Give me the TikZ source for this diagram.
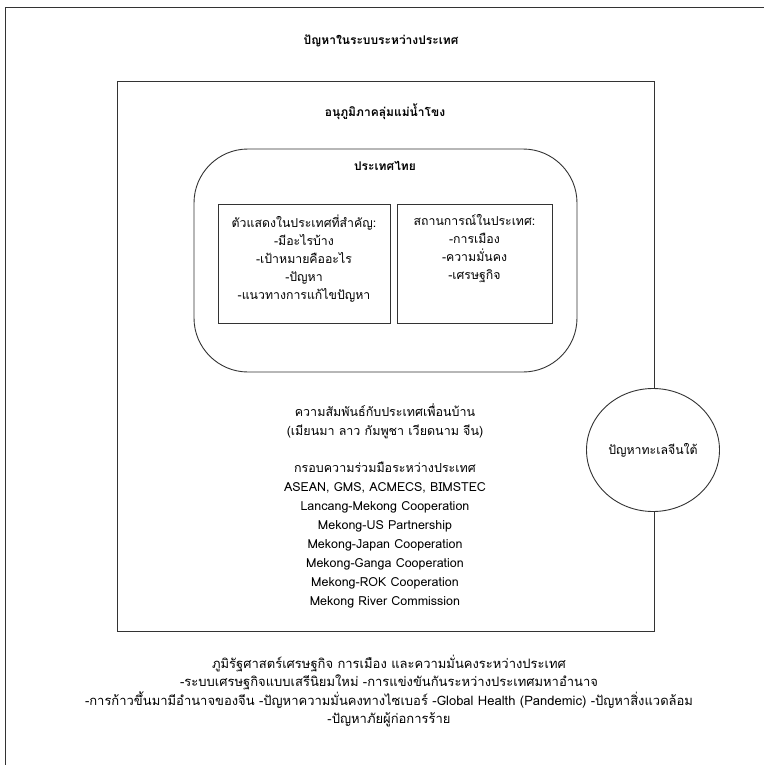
\documentclass[tikz,border=0pt]{standalone}
\usepackage{fontspec}
\setmainfont[Script=Thai]{Loma}
\usetikzlibrary{positioning,shapes.geometric}

\tikzset{
  frameline/.style={draw=black!80, line width=0.9pt},
  areabox/.style={frameline, rectangle, inner sep=0pt},
  headtext/.style={font=\fontsize{12}{18}\selectfont\bfseries, inner sep=0pt},
  listtext/.style={font=\fontsize{12.3}{18}\selectfont, align=center, inner sep=0pt},
  longlist/.style={font=\fontsize{12.5}{18.9}\selectfont, align=center, inner sep=0pt},
  foottext/.style={font=\fontsize{13}{18.2}\selectfont, align=center, inner sep=0pt}
}

\begin{document}
\begin{tikzpicture}[x=1pt, y=-1pt]
  \useasboundingbox (0,0) rectangle (763,765);

  % outer frame (cut at the right and bottom)
  \draw[frameline] (5,775) -- (5,7) -- (775,7);
  \node[headtext] (title) at (381,41) {ปัญหาในระบบระหว่างประเทศ};

  % sub-region square
  \node[areabox, minimum width=537, minimum height=550] (subregion) at (385.5,356) {};
  \node[headtext] (subregiontitle) at (385,112) {อนุภูมิภาคลุ่มแม่น้ำโขง};

  % Thailand
  \node[areabox, rounded corners=54pt, minimum width=383, minimum height=223] (thailand) at (385.5,260.5) {};
  \node[headtext] (thailandtitle) at (385,166) {ประเทศไทย};

  \node[areabox, minimum width=172, minimum height=119] (actors) at (304,263.5) {};
  \node[listtext, below=11pt of actors.north] (actorstext) {ตัวแสดงในประเทศที่สำคัญ:\\-มีอะไรบ้าง\\-เป้าหมายคืออะไร\\-ปัญหา\\-แนวทางการแก้ไขปัญหา};

  \node[areabox, minimum width=155, minimum height=119] (situation) at (474.5,263.5) {};
  \node[listtext, below=11pt of situation.north] (situationtext) {สถานการณ์ในประเทศ:\\-การเมือง\\-ความมั่นคง\\-เศรษฐกิจ};

  % relations and frameworks
  \node[longlist] (neighbours) at (385,421) {ความสัมพันธ์กับประเทศเพื่อนบ้าน\\(เมียนมา ลาว กัมพูชา เวียดนาม จีน)};
  \node[longlist] (frameworks) at (385,535) {กรอบความร่วมมือระหว่างประเทศ\\ASEAN, GMS, ACMECS, BIMSTEC\\Lancang-Mekong Cooperation\\Mekong-US Partnership\\Mekong-Japan Cooperation\\Mekong-Ganga Cooperation\\Mekong-ROK Cooperation\\Mekong River Commission};

  % South China Sea
  \node[frameline, ellipse, fill=white, minimum width=133, minimum height=123, inner sep=0pt,
        font=\fontsize{12.3}{18}\selectfont] (scsea) at (653,450) {ปัญหาทะเลจีนใต้};

  % bottom text
  \node[foottext] (geoeco) at (389,691) {ภูมิรัฐศาสตร์เศรษฐกิจ การเมือง และความมั่นคงระหว่างประเทศ\\-ระบบเศรษฐกิจแบบเสรีนิยมใหม่ -การแข่งขันกันระหว่างประเทศมหาอำนาจ\\-การก้าวขึ้นมามีอำนาจของจีน -ปัญหาความมั่นคงทางไซเบอร์ -Global Health (Pandemic) -ปัญหาสิ่งแวดล้อม\\-ปัญหาภัยผู้ก่อการร้าย};
\end{tikzpicture}
\end{document}
